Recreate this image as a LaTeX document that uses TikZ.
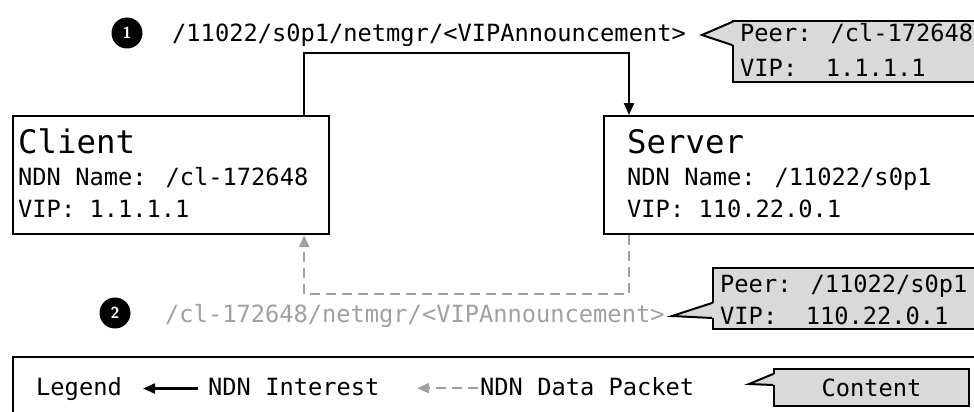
\documentclass[tikz,border=0pt]{standalone}
\usepackage{fontspec}
\usepackage{tikz}
\usetikzlibrary{positioning,arrows.meta}
\newfontfamily\consola{DejaVu Sans Mono}
\definecolor{pktgray}{RGB}{160,160,160}
\definecolor{notegray}{RGB}{217,217,217}

\begin{document}
\begin{tikzpicture}[x=1pt,y=-1pt,
  every node/.style={font=\consola\fontsize{23.7}{28}\selectfont,inner sep=0pt},
  host/.style={draw,line width=2.2pt,anchor=north west,minimum height=118pt},
  title/.style={font=\consola\fontsize{32.4}{36}\selectfont},
  note/.style={draw,fill=notegray,line width=2pt,anchor=north west},
  num/.style={circle,fill=black,text=white,minimum size=31pt,font=\sffamily\bfseries\fontsize{16}{16}\selectfont},
  interest/.style={line width=2.2pt,-{Triangle[length=12pt,width=10pt]}},
  datapkt/.style={line width=2.2pt,pktgray,dash pattern=on 10pt off 6pt,-{Triangle[length=12pt,width=10pt]}}
]
  \useasboundingbox (0,0) rectangle (974,412);
  \clip (0,0) rectangle (974,412);

  % hosts
  \node[host,minimum width=316pt] (client) at (12,115) {};
  \node[title,anchor=base west] (clientT) at (18,153) {Client};
  \node[anchor=base west] (clientN) at (18,185) {NDN Name: /cl-172648};
  \node[anchor=base west] (clientV) at (18,217) {VIP: 1.1.1.1};

  \node[host,minimum width=400pt] (server) at (603,115) {};
  \node[title,anchor=base west] (serverT) at (627,153) {Server};
  \node[anchor=base west] (serverN) at (627,185) {NDN Name: /11022/s0p1};
  \node[anchor=base west] (serverV) at (627,217) {VIP: 110.22.0.1};

  % packets
  \draw[interest] ([xshift=-26pt]client.north east) -- ++(0,-62) -| ([xshift=26pt]server.north west);
  \draw[datapkt] ([xshift=26pt]server.south west) -- ++(0,59) -| ([xshift=-26pt]client.south east);

  \node[num] (n1) at (127,33) {1};
  \node[anchor=base west] (pkt1) at (172,42) {/11022/s0p1/netmgr/<VIPAnnouncement>};
  \node[num] (n2) at (115,313) {2};
  \node[anchor=base west,text=pktgray] (pkt2) at (165,322) {/cl-172648/netmgr/<VIPAnnouncement>};

  % contents
  \node[note,minimum width=270pt,minimum height=61pt] (peer1) at (732,20) {};
  \node[anchor=base west] (peer1P) at (740,42) {Peer: /cl-172648};
  \node[anchor=base west] (peer1V) at (740,76) {VIP:\ \ 1.1.1.1};
  \coordinate (tip1) at (702,35);

  \node[note,minimum width=290pt,minimum height=61pt] (peer2) at (712,267) {};
  \node[anchor=base west] (peer2P) at (720,292) {Peer: /11022/s0p1};
  \node[anchor=base west] (peer2V) at (720,324) {VIP:\ \ 110.22.0.1};
  \coordinate (tip2) at (672,316);

  % legend
  \node[draw,line width=2.2pt,anchor=north west,minimum width=1000pt,minimum height=80pt] (legend) at (12,356) {};
  \node[anchor=base west] (legT) at (36,395) {Legend};
  \node[anchor=base west] (intT) at (208,395) {NDN Interest};
  \node[anchor=base west] (datT) at (480,395) {NDN Data Packet};
  \draw[interest] ([xshift=-10pt,yshift=-2pt]intT.west) -- ([xshift=-65pt,yshift=-2pt]intT.west);
  \draw[datapkt] ([xshift=-2pt,yshift=-2pt]datT.west) -- ([xshift=-63pt,yshift=-2pt]datT.west);
  \node[note,minimum width=195pt,minimum height=37pt] (cont) at (773,368) {Content};
  \coordinate (tip3) at (749,384);

  % callout pointers
  \foreach \b/\t/\u/\p in {peer1/2/25/tip1,peer2/36/51/tip2,cont/6/17/tip3} {
    \fill[notegray] ([xshift=2.5pt,yshift=-\t pt]\b.north west) -- (\p) -- ([xshift=2.5pt,yshift=-\u pt]\b.north west) -- cycle;
    \draw[line width=2pt] ([yshift=-\t pt]\b.north west) -- (\p) -- ([yshift=-\u pt]\b.north west);
  }
\end{tikzpicture}
\end{document}
